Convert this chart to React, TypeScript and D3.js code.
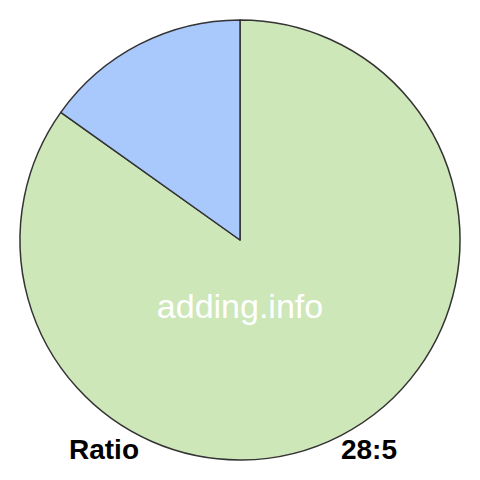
import React from "react";
import * as d3 from "d3";

const labels = ["28", "5"];
const values = [28, 5];
const colors = ["#cde7b9", "#a9c8fb"];
const watermark = "adding.info";
const leftLabel = "Ratio";
const rightLabel = "28:5";

export default function App() {
  const W = 480, H = 480;
  const cx = 240, cy = 240, r = 220;
  const pie = d3.pie<number>().sort(null).value((d) => d);
  const arcs = pie(values);
  const arcGen = d3.arc<d3.PieArcDatum<number>>().innerRadius(0).outerRadius(r);
  return (
    <svg width={W} height={H} style={{ position: "absolute", left: 0, top: 0, background: "#fff" }}>
      <g transform={`translate(${cx},${cy})`}>
        {arcs.map((a, i) => (
          <path key={labels[i]} d={arcGen(a) || ""} fill={colors[i]} stroke="#333" strokeWidth={1.5} strokeLinejoin="round" />
        ))}
      </g>
      <text x={240} y={318} textAnchor="middle" fill="#fff" fontFamily="Liberation Sans, Arial, sans-serif" fontSize={34}>{watermark}</text>
      <text x={69} y={459} fill="#000" fontWeight="bold" fontFamily="Liberation Sans, Arial, sans-serif" fontSize={28}>{leftLabel}</text>
      <text x={397} y={459} textAnchor="end" fill="#000" fontWeight="bold" fontFamily="Liberation Sans, Arial, sans-serif" fontSize={28}>{rightLabel}</text>
    </svg>
  );
}
